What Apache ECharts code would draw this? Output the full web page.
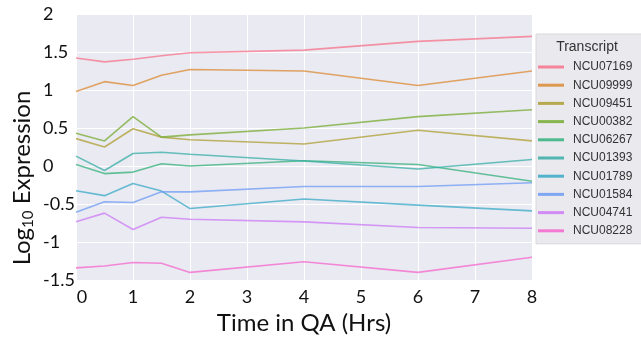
<!DOCTYPE html>
<html>
<head>
<meta charset="utf-8">
<script src="https://cdn.jsdelivr.net/npm/echarts@6/dist/echarts.min.js"></script>
<style>html,body{margin:0;padding:0;background:#fff;}#c{width:641px;height:340px;}</style>
</head>
<body>
<div id="c"></div>
<script>
const hours = [0, 0.5, 1, 1.5, 2, 4, 6, 8];
const transcripts = ['NCU07169','NCU09999','NCU09451','NCU00382','NCU06267','NCU01393','NCU01789','NCU01584','NCU04741','NCU08228'];
const NCU07169 = [1.42, 1.37, 1.405, 1.45, 1.49, 1.525, 1.64, 1.705];
const NCU09999 = [0.98, 1.11, 1.06, 1.195, 1.27, 1.25, 1.06, 1.25];
const NCU09451 = [0.36, 0.25, 0.49, 0.38, 0.345, 0.29, 0.47, 0.33];
const NCU00382 = [0.43, 0.33, 0.65, 0.38, 0.41, 0.50, 0.65, 0.74];
const NCU06267 = [0.02, -0.10, -0.08, 0.03, 0.0, 0.07, 0.02, -0.20];
const NCU01393 = [0.13, -0.06, 0.165, 0.18, 0.155, 0.065, -0.04, 0.085];
const NCU01789 = [-0.325, -0.39, -0.23, -0.33, -0.56, -0.435, -0.515, -0.59];
const NCU01584 = [-0.61, -0.47, -0.48, -0.34, -0.34, -0.27, -0.27, -0.22];
const NCU04741 = [-0.735, -0.62, -0.835, -0.675, -0.70, -0.735, -0.81, -0.82];
const NCU08228 = [-1.34, -1.315, -1.27, -1.28, -1.40, -1.26, -1.40, -1.20];
const values = [NCU07169, NCU09999, NCU09451, NCU00382, NCU06267, NCU01393, NCU01789, NCU01584, NCU04741, NCU08228];
const colors = ['#f77189','#dc8932','#ae9d31','#77ab31','#33b07a','#36ada4','#38a9c5','#6e9bf4','#cc7af4','#f565cc'];
const yTicks = { min: -1.5, max: 2, step: 0.5 };
const xTicks = { min: 0, max: 8, step: 1 };

const FONT = 'Lato';
const chart = echarts.init(document.getElementById('c'), null, { renderer: 'canvas' });
chart.setOption({
  animation: false,
  color: colors,
  grid: { left: 76, right: 109, top: 14, bottom: 60, show: true, backgroundColor: '#eaeaf2', borderWidth: 0 },
  xAxis: {
    type: 'value', min: xTicks.min, max: xTicks.max, interval: xTicks.step,
    name: 'Time in QA (Hrs)', nameLocation: 'middle', nameGap: 30,
    nameTextStyle: { fontFamily: FONT, fontSize: 24, color: '#111' },
    axisLine: { show: false }, axisTick: { show: false },
    axisLabel: {
      fontFamily: FONT, fontSize: 18, color: '#111', margin: 8,
      formatter: v => v === 0 ? '{z|0}' : String(v),
      rich: { z: { fontFamily: FONT, fontSize: 18, color: '#111', padding: [0, 0, 0, 12] } }
    },
    splitLine: { show: true, lineStyle: { color: '#ffffff', width: 1 } }
  },
  yAxis: {
    type: 'value', min: yTicks.min, max: yTicks.max, interval: yTicks.step,
    axisLine: { show: false }, axisTick: { show: false },
    axisLabel: { fontFamily: FONT, fontSize: 18, color: '#111', align: 'left', margin: 33, padding: [11, 0, 0, 0] },
    splitLine: { show: true, lineStyle: { color: '#ffffff', width: 1 } }
  },
  legend: {
    orient: 'vertical', left: 536, top: 34,
    padding: [26, 30, 6, 2], itemGap: 4.2, itemWidth: 26, itemHeight: 3,
    icon: 'rect',
    backgroundColor: '#e9e9ee', borderColor: '#d8d8de', borderWidth: 1,
    data: transcripts,
    itemStyle: { opacity: 0.85 },
    textStyle: { fontFamily: 'Liberation Sans', fontSize: 12, color: '#333', padding: [0, 0, 0, 4], lineHeight: 14 }
  },
  graphic: [
    { type: 'text', x: 587, y: 47, z: 100,
      style: { text: 'Transcript', fontFamily: 'Liberation Sans', fontSize: 14, fill: '#333', align: 'center', verticalAlign: 'middle' } },
    { type: 'text', x: 22, y: 178, rotation: Math.PI / 2, z: 100,
      style: {
        text: '{a|Log}{b|10}{a| Expression}', align: 'center', verticalAlign: 'middle',
        rich: {
          a: { fontFamily: FONT, fontSize: 24, fill: '#111', lineHeight: 28 },
          b: { fontFamily: FONT, fontSize: 15, fill: '#111', lineHeight: 15, verticalAlign: 'bottom', padding: [6, 0, 0, 0] }
        }
      } }
  ],
  series: transcripts.map((name, k) => ({
    name, type: 'line', symbol: 'none', smooth: false,
    data: hours.map((h, i) => [h, values[k][i]]),
    lineStyle: { width: 1.6, opacity: 0.75 }
  }))
});
</script>
</body>
</html>
